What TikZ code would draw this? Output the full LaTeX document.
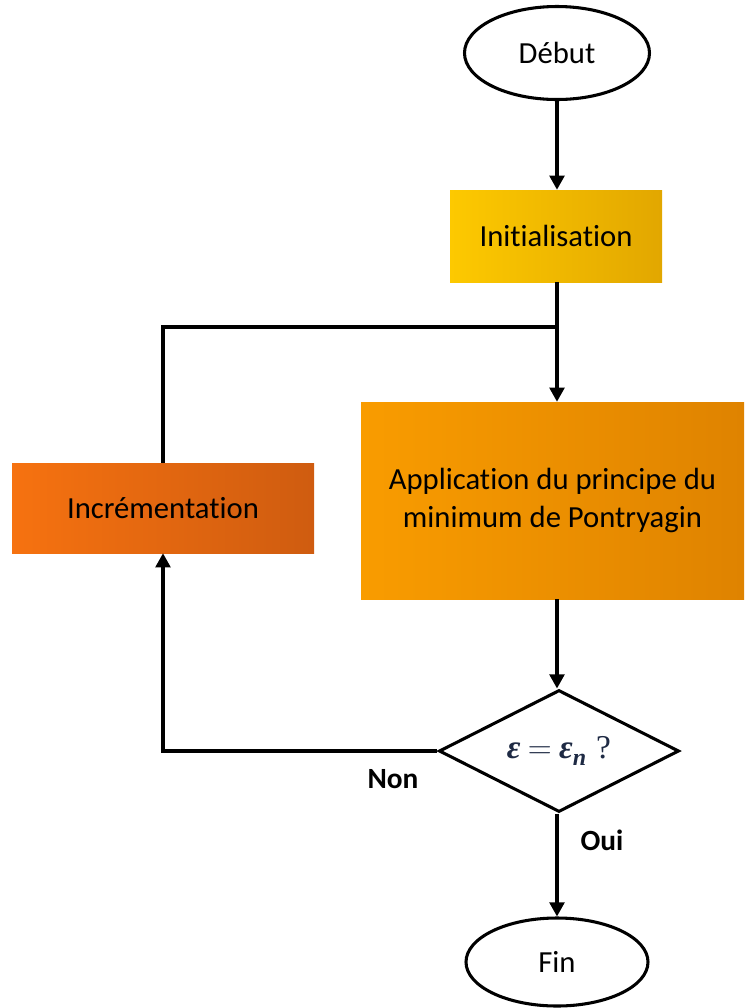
\documentclass[tikz,border=0pt]{standalone}
\usepackage{amsmath}
\usepackage{fontspec}
\setmainfont[RawFeature={-liga;-clig;-calt;-dlig}]{Carlito}
\newfontfamily\eqfont{Liberation Serif}
\usetikzlibrary{shapes.geometric,arrows.meta}
\definecolor{initL}{HTML}{FDC900}
\definecolor{initR}{HTML}{E2A700}
\definecolor{appL}{HTML}{F99C00}
\definecolor{appR}{HTML}{DF8300}
\definecolor{incL}{HTML}{F67210}
\definecolor{incR}{HTML}{CF5C10}
\definecolor{mathc}{HTML}{1E2A44}
\newcommand{\decfont}{\fontsize{25}{28}\selectfont\eqfont\bfseries}
\tikzset{
  conn/.style={line width=2.3pt, draw=black},
  arr/.style={conn, -{Triangle[length=10.5pt,width=11pt]}},
  term/.style={ellipse, draw=black, line width=2.3pt, fill=white, inner sep=0pt, font=\fontsize{23}{28}\selectfont},
  procbox/.style={rectangle, inner sep=0pt, font=\fontsize{23}{28}\selectfont, align=center},
  decision/.style={diamond, aspect=2, draw=black, line width=2.3pt, fill=white, inner sep=0pt, font=\decfont, text=mathc},
  lbl/.style={font=\fontsize{22}{26}\selectfont\bfseries}
}
\begin{document}
\begin{tikzpicture}[x=0.75pt,y=-0.75pt]
\useasboundingbox (0,0) rectangle (744,1008);
\node[term, minimum width=138.75pt, minimum height=69.75pt] (debut) at (557,53) {Début};
\node[procbox, minimum width=159pt, minimum height=69pt, left color=initL, right color=initR] (init) at (556,236) {Initialisation};
\node[procbox, minimum width=287.25pt, minimum height=147.75pt, left color=appL, right color=appR] (app) at (552.5,500.5) {Application du principe du\\[1pt]minimum de Pontryagin};
\node[procbox, minimum width=226.5pt, minimum height=67.5pt, left color=incL, right color=incR] (inc) at (163,508) {Incrémentation};
\node[decision, minimum width=180pt, minimum height=91.5pt] (dec) at (559,751) {\textit{ε}\hspace{0.22em}$=$\hspace{0.22em}\textit{ε}\raisebox{-0.22em}{\fontsize{18}{20}\selectfont\itshape n}\hspace{0.3em}{\mdseries ?}};
\node[term, minimum width=136.5pt, minimum height=66pt] (fin) at (557,962) {Fin};
\coordinate (j) at (557,327);
\coordinate (jl) at (163,327);
\coordinate (bl) at (163,751);
\node[lbl] (non) at (393,779) {Non};
\node[lbl] (oui) at (602,840) {Oui};
\draw[arr] (debut.south) -- (init.north -| debut.south);
\draw[conn] (init.south -| j) -- (j);
\draw[arr] (j) -- (app.north -| j);
\draw[conn] (j) -- (jl) -- (inc.north);
\draw[arr] (app.south -| j) -- (dec.north -| j);
\draw[arr] (dec.west) -- (bl) -- (inc.south);
\draw[arr] (dec.south -| j) -- (fin.north);
\end{tikzpicture}
\end{document}
